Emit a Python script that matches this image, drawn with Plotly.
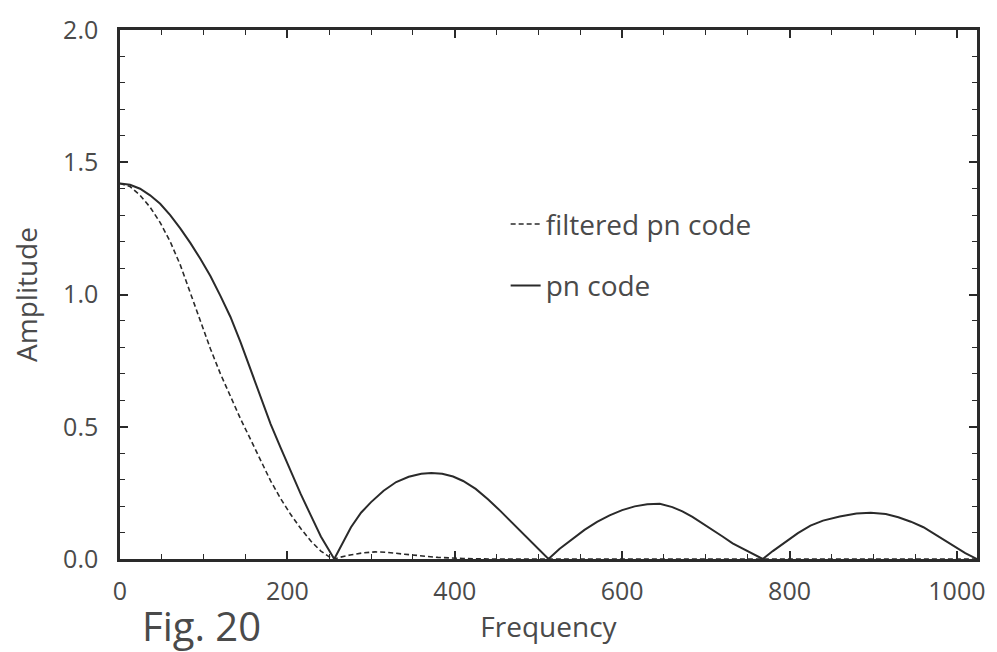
import plotly.graph_objects as go

# Amplitude spectra of the spreading code, before and after filtering
freq_pn = [0, 12, 24, 36, 48, 60, 72, 84, 96, 108, 120, 132, 144, 156, 168, 180, 192, 204, 216,
           228, 240, 256,
           266, 276, 288, 300, 315, 330, 345, 360, 372, 385, 398, 410, 425, 440, 455, 470, 485,
           500, 512,
           525, 540, 555, 570, 585, 600, 615, 630, 645, 660, 672, 684, 696, 708, 720, 732, 744,
           756, 768,
           780, 795, 810, 825, 840, 860, 880, 897, 915, 930, 945, 960, 978, 995, 1010, 1024]
amp_pn = [1.420, 1.415, 1.400, 1.375, 1.343, 1.300, 1.250, 1.195, 1.135, 1.070, 0.995, 0.915,
          0.820, 0.715, 0.610, 0.510, 0.420, 0.330, 0.245, 0.165, 0.085, 0.0,
          0.060, 0.120, 0.175, 0.215, 0.258, 0.291, 0.311, 0.322, 0.325, 0.322, 0.312, 0.295,
          0.265, 0.225, 0.180, 0.132, 0.085, 0.038, 0.0,
          0.038, 0.075, 0.110, 0.140, 0.165, 0.185, 0.199, 0.207, 0.209, 0.196, 0.180, 0.159,
          0.135, 0.110, 0.085, 0.059, 0.040, 0.020, 0.0,
          0.030, 0.065, 0.098, 0.126, 0.145, 0.161, 0.172, 0.175, 0.170, 0.158, 0.141, 0.120,
          0.084, 0.050, 0.022, 0.0]

freq_filtered = [0, 12, 24, 36, 48, 60, 72, 84, 96, 108, 120, 132, 144, 156, 168, 180, 192, 204,
                 216, 228, 240, 250, 256,
                 262, 275, 290, 305, 320, 340, 360, 380, 410, 440, 512, 768, 1024]
amp_filtered = [1.420, 1.408, 1.375, 1.330, 1.272, 1.200, 1.112, 1.008, 0.900, 0.795, 0.700,
                0.612, 0.530, 0.452, 0.372, 0.295, 0.228, 0.168, 0.115, 0.068, 0.030, 0.008, 0.0,
                0.006, 0.015, 0.023, 0.027, 0.025, 0.018, 0.011, 0.006, 0.002, 0.0, 0.0, 0.0, 0.0]

x_ticks = [0, 200, 400, 600, 800, 1000]
y_ticks = [0.0, 0.5, 1.0, 1.5, 2.0]

INK = "#2a2a2a"
TEXT = "#4a4a4a"
FONT = "Open Sans"

fig = go.Figure()
fig.add_trace(go.Scatter(
    x=freq_filtered, y=amp_filtered, mode="lines", name="filtered pn code",
    legendgroup="a",
    line=dict(color=INK, width=1.6, dash="5px,3px"),
))
fig.add_trace(go.Scatter(
    x=freq_pn, y=amp_pn, mode="lines", name="pn code",
    legendgroup="b",
    line=dict(color=INK, width=2),
))

axis_common = dict(
    showgrid=False, zeroline=False,
    showline=True, linecolor=INK, linewidth=2.5, mirror="allticks",
    ticks="inside", ticklen=8, tickwidth=1.5, tickcolor=INK,
    tickfont=dict(family=FONT, size=25, color=TEXT),
)

fig.update_layout(
    width=997, height=652,
    margin=dict(l=120, r=19, t=27, b=93),
    paper_bgcolor="white", plot_bgcolor="white",
    font=dict(family=FONT, color=TEXT),
    xaxis=dict(
        range=[0, 1024], tickvals=x_ticks,
        minor=dict(dtick=50, tick0=0, ticks="inside", ticklen=5, tickwidth=1.2, tickcolor=INK),
        ticklabelstandoff=8,
        title=dict(text="Frequency", font=dict(family=FONT, size=28, color=TEXT), standoff=8),
        **axis_common,
    ),
    yaxis=dict(
        range=[0, 2], tickvals=y_ticks, tickformat=".1f",
        minor=dict(dtick=0.1, tick0=0, ticks="inside", ticklen=5, tickwidth=1.2, tickcolor=INK),
        ticklabelstandoff=14,
        title=dict(text="Amplitude", font=dict(family=FONT, size=28, color=TEXT), standoff=18),
        **axis_common,
    ),
    showlegend=True,
    legend=dict(
        x=0.45, y=0.68, xanchor="left", yanchor="top",
        bgcolor="rgba(0,0,0,0)", borderwidth=0,
        font=dict(family=FONT, size=28, color=TEXT),
        traceorder="grouped", tracegroupgap=22,
    ),
    annotations=[
        dict(text="Fig. 20", xref="paper", yref="paper", x=0.023, y=-0.125,
             xanchor="left", yanchor="middle", showarrow=False,
             font=dict(family=FONT, size=40, color=TEXT)),
    ],
)

fig.write_html("out.html")
